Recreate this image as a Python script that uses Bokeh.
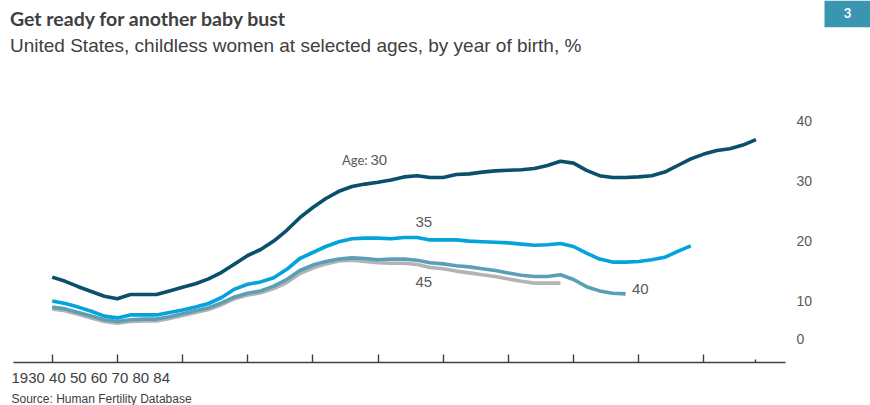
from bokeh.plotting import figure
from bokeh.models import Range1d, FixedTicker, CustomJSTickFormatter, Label, BoxAnnotation, Title
from bokeh.core.properties import value
from bokeh.embed import file_html
from bokeh.resources import INLINE

# ---------------- data ----------------
years_30 = list(range(1930, 1985))
age_30 = [13.9, 13.2, 12.3, 11.5, 10.7, 10.3, 11.0, 11.0, 11.0, 11.6,
          12.2, 12.8, 13.6, 14.7, 16.1, 17.5, 18.5, 19.9, 21.7, 23.8,
          25.5, 27.0, 28.2, 29.0, 29.4, 29.7, 30.1, 30.6, 30.8, 30.5,
          30.5, 31.0, 31.1, 31.4, 31.6, 31.7, 31.8, 32.0, 32.5, 33.2,
          32.9, 31.7, 30.8, 30.5, 30.5, 30.6, 30.8, 31.4, 32.5, 33.6,
          34.4, 35.0, 35.3, 35.9, 36.8]

years_35 = list(range(1930, 1980))
age_35 = [9.9, 9.5, 8.9, 8.2, 7.4, 7.1, 7.6, 7.6, 7.6, 8.0,
          8.4, 8.9, 9.5, 10.5, 11.9, 12.7, 13.1, 13.8, 15.2, 17.0,
          18.0, 19.0, 19.8, 20.3, 20.4, 20.4, 20.3, 20.5, 20.5, 20.1,
          20.1, 20.1, 19.9, 19.8, 19.7, 19.6, 19.4, 19.2, 19.3, 19.5,
          19.0, 17.9, 16.9, 16.4, 16.4, 16.5, 16.8, 17.2, 18.2, 19.1]

years_40 = list(range(1930, 1975))
age_40 = [8.9, 8.6, 8.0, 7.4, 6.8, 6.5, 6.8, 6.9, 6.9, 7.3,
          7.8, 8.3, 8.8, 9.6, 10.6, 11.2, 11.6, 12.4, 13.5, 15.0,
          15.9, 16.5, 16.9, 17.1, 17.0, 16.8, 16.9, 16.9, 16.7, 16.3,
          16.1, 15.8, 15.6, 15.3, 15.0, 14.6, 14.2, 14.0, 14.0, 14.3,
          13.5, 12.3, 11.6, 11.2, 11.1]

years_45 = list(range(1930, 1970))
age_45 = [8.6, 8.3, 7.7, 7.1, 6.5, 6.2, 6.5, 6.6, 6.6, 7.0,
          7.5, 8.0, 8.5, 9.3, 10.3, 10.9, 11.3, 12.0, 13.0, 14.5,
          15.4, 16.1, 16.6, 16.7, 16.5, 16.3, 16.2, 16.2, 16.0, 15.5,
          15.3, 14.9, 14.6, 14.3, 14.0, 13.6, 13.2, 12.9, 12.9, 12.9]

x_ticks = [1930, 1935, 1940, 1945, 1950, 1955, 1960, 1965, 1970, 1975, 1980]
x_minor_ticks = [1984]
x_tick_text = "1930 40 50 60 70 80  84"
y_tick_values = [40, 30, 20, 10, 0]
y_tick_labels = ["40", "30", "20", "10", "0"]

# ---------------- page geometry helpers (page px -> data) ----------------
def px_x(px):
    return 1930 + (px - 51.7) / 13.032

def px_y(py):
    return (360.0 - py) / 6.0

W, H = 870, 405
FRAME_BOTTOM = 362
p = figure(width=W, height=H, output_backend="svg", toolbar_location=None,
           x_range=Range1d(px_x(0), px_x(W)), y_range=Range1d(px_y(FRAME_BOTTOM), px_y(0)),
           min_border_left=0, min_border_right=0, min_border_top=0,
           min_border_bottom=H - FRAME_BOTTOM)
p.outline_line_color = None
p.background_fill_color = "white"
p.border_fill_color = "white"
p.xgrid.visible = False
p.ygrid.visible = False
p.yaxis.visible = False

ax = p.xaxis[0]
ax.ticker = FixedTicker(ticks=x_ticks, minor_ticks=x_minor_ticks)
ax.bounds = (px_x(13), px_x(785))
ax.axis_line_color = "#404040"
ax.axis_line_width = 1.4
ax.major_tick_line_color = "#404040"
ax.major_tick_line_width = 1.4
ax.major_tick_in = 8
ax.major_tick_out = 0
ax.minor_tick_line_color = "#404040"
ax.minor_tick_line_width = 1.4
ax.minor_tick_in = 3
ax.minor_tick_out = 0
ax.major_label_standoff = 0
ax.major_label_text_font_size = "0px"
ax.formatter = CustomJSTickFormatter(code="return ''")

# ---------------- lines ----------------
LW = 3.6
p.line(years_45, age_45, line_color="#b3b3b3", line_width=LW)
p.line(years_40, age_40, line_color="#5a9fb6", line_width=LW)
p.line(years_35, age_35, line_color="#05a2dc", line_width=LW)
p.line(years_30, age_30, line_color="#0a4f6b", line_width=LW)

# ---------------- y labels (right side) ----------------
y_label_pos = [v if v != 0 else px_y(338) for v in y_tick_values]
p.text(x=[px_x(796)] * len(y_tick_labels), y=y_label_pos, text=y_tick_labels,
       text_font=value("Liberation Sans"), text_font_size="14px",
       text_color="#595959", text_align="left", text_baseline="middle")

# ---------------- series labels ----------------
lab_font = value("Liberation Sans")
p.text(x=[px_x(341.5)], y=[px_y(159.5)], text=["Age:"], text_font=value("Lato"),
       text_font_size="13px", text_color="#595959", text_align="left", text_baseline="middle")
p.text(x=[px_x(370), px_x(415), px_x(415), px_x(631.5)],
       y=[px_y(159), px_y(221.7), px_y(281.7), px_y(288.3)],
       text=["30", "35", "45", "40"], text_font=lab_font, text_font_size="15px",
       text_color="#595959", text_align="left", text_baseline="middle")

# ---------------- titles ----------------
p.add_layout(Label(x=px_x(9.5), y=px_y(18), text="Get ready for another baby bust",
                   text_font="Lato", text_font_style="bold", text_font_size="19.5px",
                   text_color="#404040", text_baseline="middle", text_align="left"))
p.add_layout(Label(x=px_x(9.5), y=px_y(45), text="United States, childless women at selected  ages, by year of birth, %",
                   text_font="Liberation Sans", text_font_size="19px",
                   text_color="#404040", text_baseline="middle", text_align="left"))

# badge
p.add_layout(BoxAnnotation(left=px_x(824), right=px_x(870), top=px_y(0), bottom=px_y(26.7),
                           fill_color="#3a96b0", fill_alpha=1.0, line_color=None))
p.add_layout(Label(x=px_x(847), y=px_y(12.5), text="3", text_font="Lato", text_font_style="bold",
                   text_font_size="13px", text_color="white", text_align="center", text_baseline="middle"))

# ---------------- bottom texts (below the axis) ----------------
t_ticks = Title(text=x_tick_text, align="left", offset=11, standoff=8,
                text_font="Liberation Sans", text_font_size="15px", text_font_style="normal",
                text_color="#404040")
t_src = Title(text="Source: Human Fertility Database", align="left", offset=11, standoff=0,
              text_font="Liberation Sans", text_font_size="12px", text_font_style="normal",
              text_color="#404040")
p.add_layout(t_ticks, "below")
p.add_layout(t_src, "below")

open("out.html", "w").write(file_html(p, INLINE))
